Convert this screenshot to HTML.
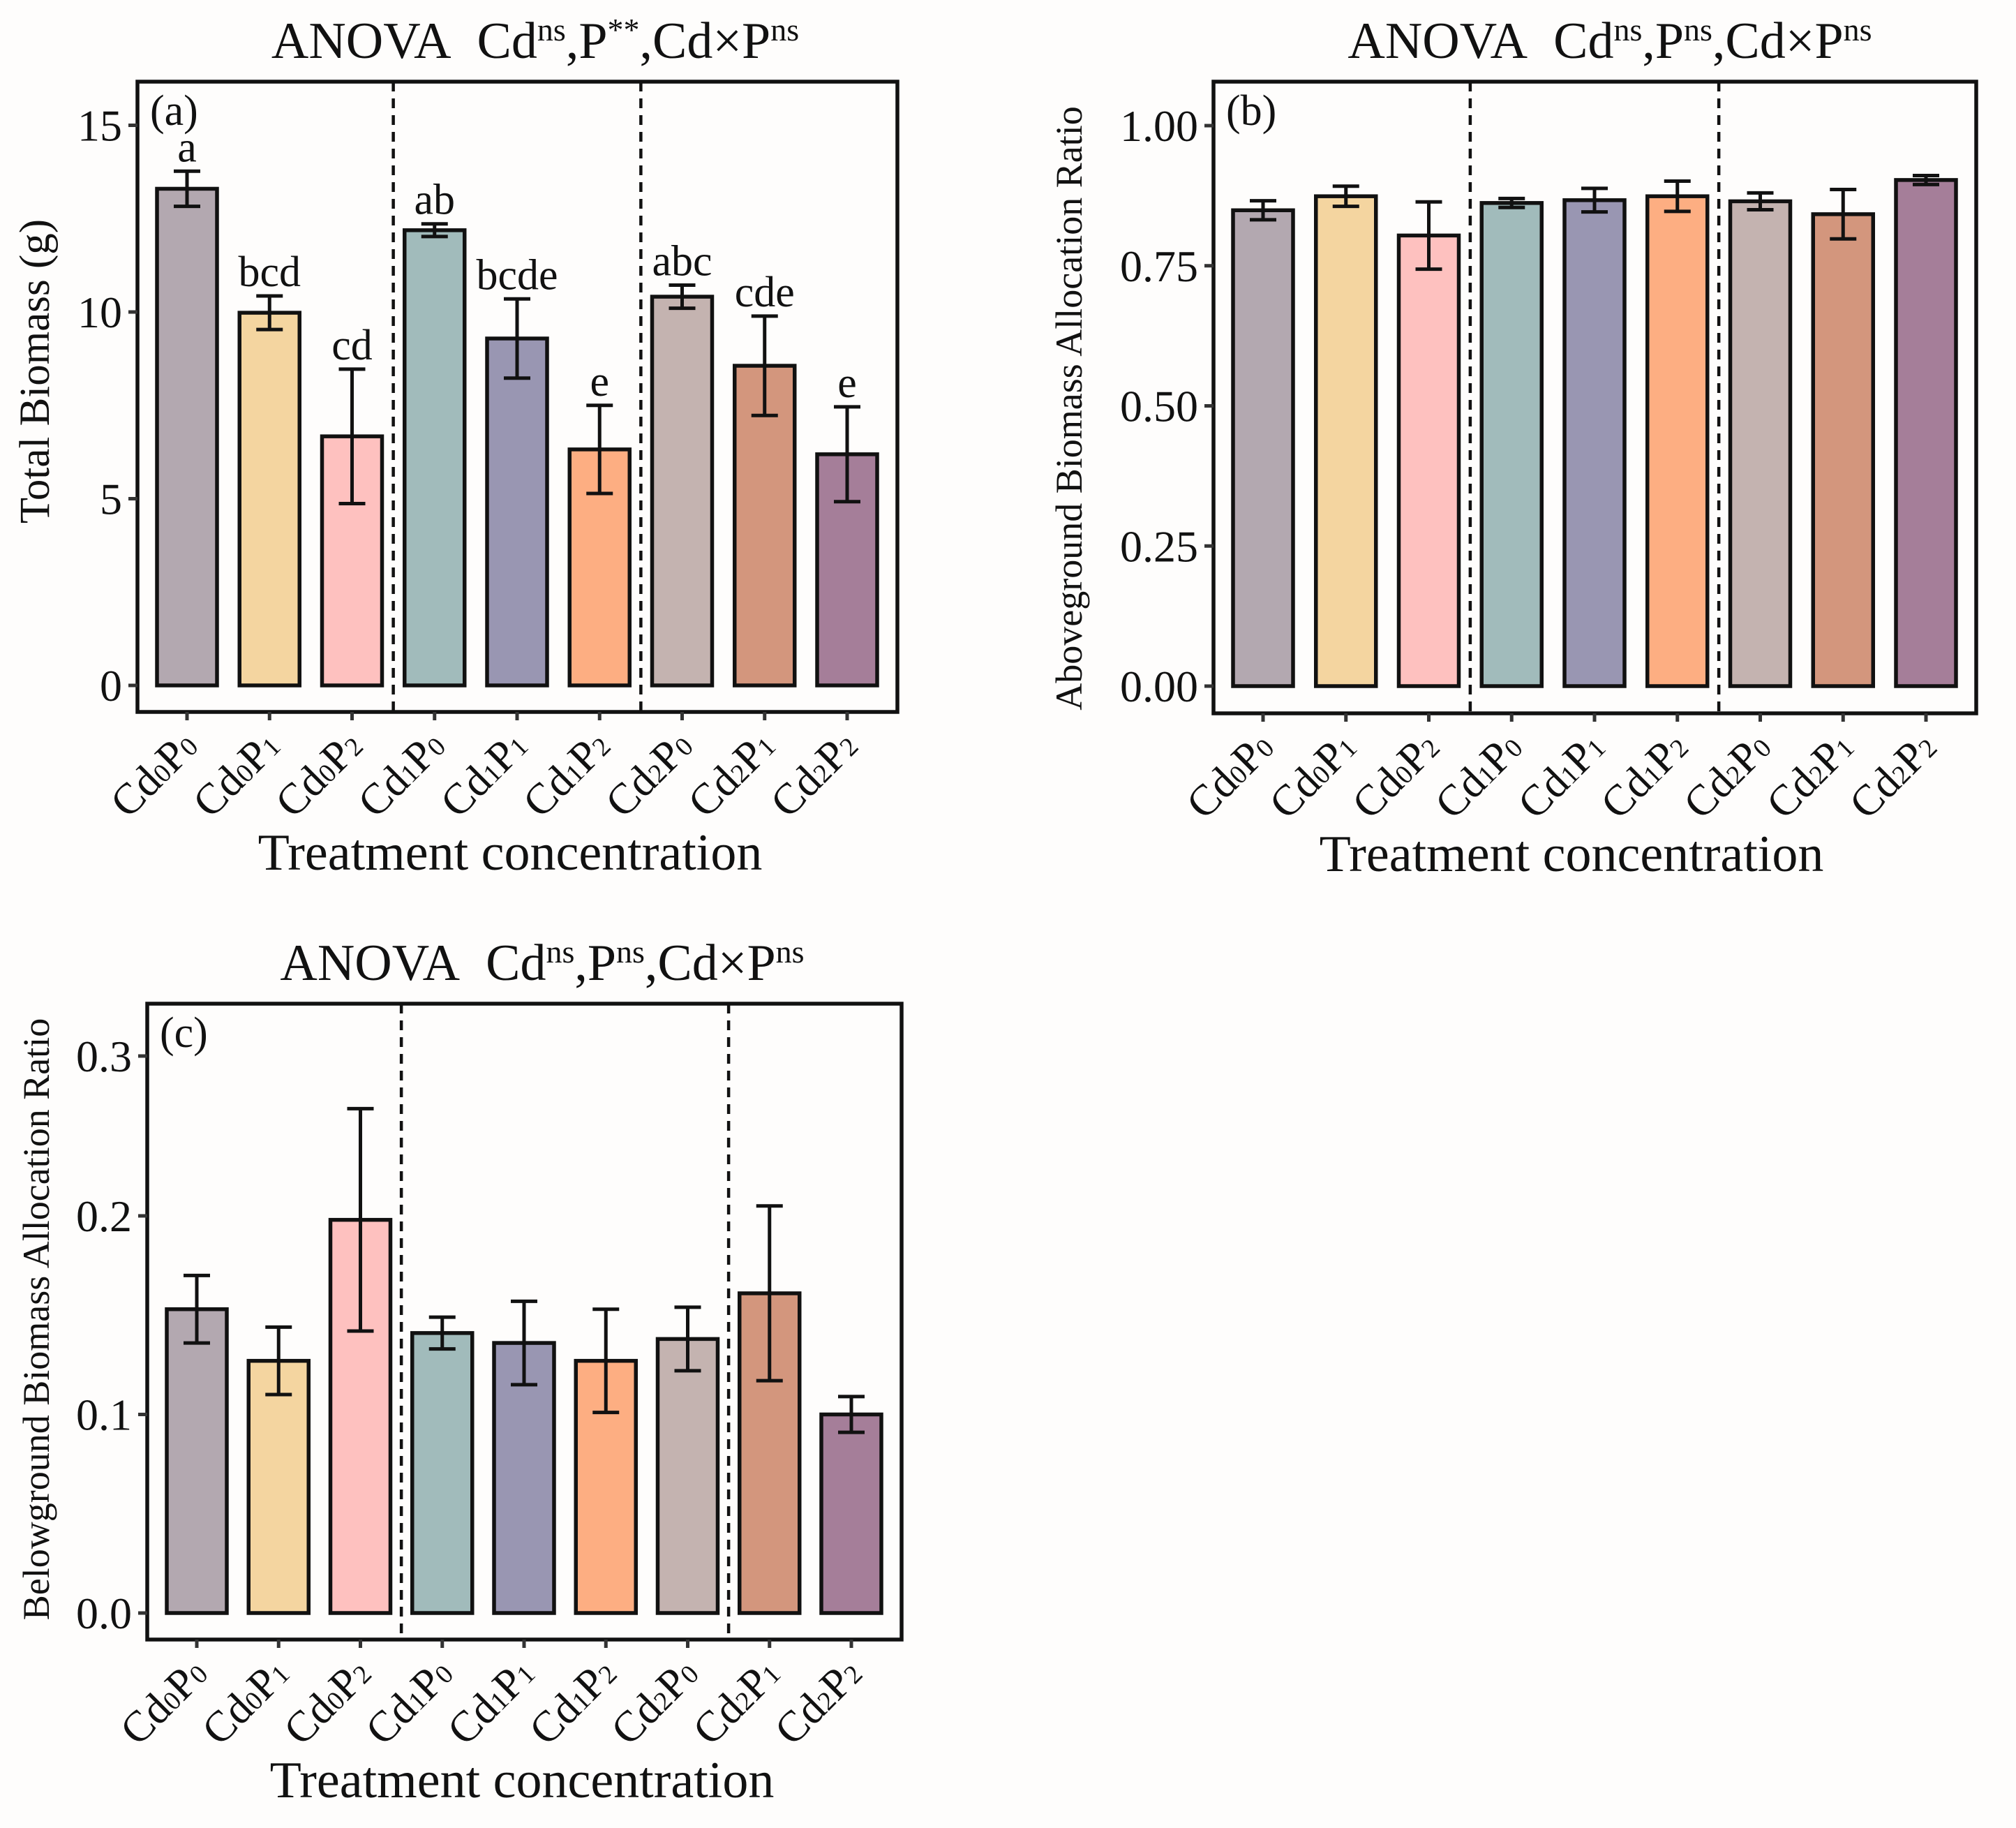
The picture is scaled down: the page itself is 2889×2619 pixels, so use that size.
<!DOCTYPE html>
<html><head><meta charset="utf-8"><style>
html,body{margin:0;padding:0;background:#fefdfc;}
svg{display:block;font-family:"Liberation Serif",serif;}
</style></head><body>
<svg id="fig" width="2889" height="2619" viewBox="0 0 2889 2619" xmlns="http://www.w3.org/2000/svg">
<rect x="0" y="0" width="2889" height="2619" fill="#fefdfc"/>
</svg>
<script>
const categories = [["0","0"],["0","1"],["0","2"],["1","0"],["1","1"],["1","2"],["2","0"],["2","1"],["2","2"]];
const colors = ["#b3a8b0","#f4d5a0","#fec1bf","#a1bbbb","#9996b2","#fdae82","#c4b3b0","#d3967d","#a57e99"];
const meansA = [13.3, 9.98, 6.67, 12.19, 9.29, 6.32, 10.41, 8.56, 6.19];
const errA = [0.47, 0.45, 1.8, 0.17, 1.06, 1.18, 0.31, 1.33, 1.27];
const lettersA = ["a","bcd","cd","ab","bcde","e","abc","cde","e"];
const ticksA = [0, 5, 10, 15];
const tickLabelsA = ["0","5","10","15"];
const meansB = [0.849, 0.874, 0.804, 0.862, 0.867, 0.874, 0.865, 0.842, 0.903];
const errB = [0.017, 0.018, 0.06, 0.008, 0.021, 0.027, 0.015, 0.044, 0.008];
const ticksB = [0, 0.25, 0.5, 0.75, 1.0];
const tickLabelsB = ["0.00","0.25","0.50","0.75","1.00"];
const meansC = [0.153, 0.127, 0.198, 0.141, 0.136, 0.127, 0.138, 0.161, 0.100];
const errC = [0.017, 0.017, 0.056, 0.008, 0.021, 0.026, 0.016, 0.044, 0.009];
const ticksC = [0, 0.1, 0.2, 0.2805];
const tickLabelsC = ["0.0","0.1","0.2","0.3"];

const NS = "http://www.w3.org/2000/svg";
const svg = document.getElementById("fig");
function mk(tag, attrs, parent) {
  const e = document.createElementNS(NS, tag);
  for (const k in attrs) e.setAttribute(k, attrs[k]);
  (parent || svg).appendChild(e);
  return e;
}

function panel(cfg) {
  const g = mk("g", {});
  
  
  const L = cfg.left, R = cfg.right, T = cfg.top, B = cfg.bottom;
  const step = (R - L - 143) / 8;
  const xScale = i => L + 71 + i * step;
  const yScale = v => cfg.y0 - v * cfg.pxPerUnit;
  const frame = mk("rect", {x: L, y: T, width: R - L, height: B - T, fill: "none", stroke: "#111", "stroke-width": 5.5}, g);
  
  
  cfg.dashes.forEach(d => {
    const ln = mk("line", {x1: xScale(d), x2: xScale(d), y1: T, y2: B, stroke: "#111", "stroke-width": 4.5, "stroke-dasharray": "14,10"}, g);
    
    
  });
  cfg.ticks.forEach((t, i) => {
    const y = yScale(t);
    const tk = mk("line", {x1: L - 13, x2: L, y1: y, y2: y, stroke: "#333", "stroke-width": 5}, g);
    
    
    const tl = mk("text", {x: L - 22, y: y + 22, "text-anchor": "end", "font-size": 64, fill: "#111"}, g);
    tl.textContent = cfg.tickLabels[i];
    
    
  });
  cfg.means.forEach((m, i) => {
    const cx = xScale(i);
    const bar = mk("rect", {x: cx - 43, y: yScale(m), width: 86, height: yScale(0) - yScale(m), fill: colors[i], stroke: "#111", "stroke-width": 5.5}, g);
    
    
    const hi = yScale(m + cfg.err[i]), lo = yScale(m - cfg.err[i]);
    const eb = mk("path", {d: `M${cx},${hi}V${lo}M${cx-19},${hi}H${cx+19}M${cx-19},${lo}H${cx+19}`, stroke: "#111", "stroke-width": 5, fill: "none"}, g);
    
    
    if (cfg.letters) {
      const lt = mk("text", {x: cx, y: hi - 14, "text-anchor": "middle", "font-size": 62, fill: "#111"}, g);
      lt.textContent = cfg.letters[i];
      
      
    }
    const xt = mk("line", {x1: cx, x2: cx, y1: B, y2: B + 12, stroke: "#333", "stroke-width": 5}, g);
    
    
    const xl = mk("text", {x: 0, y: 0, "text-anchor": "end", "font-size": 62, fill: "#111", transform: `translate(${cx + 18},${B + 52}) rotate(-45)`}, g);
    
    
    const c = categories[i];
    xl.innerHTML = `Cd<tspan font-size="38">${c[0]}</tspan>P<tspan font-size="38">${c[1]}</tspan>`;
  });
  const tag = mk("text", {x: L + 18, y: T + 62, "font-size": 62, fill: "#111"}, g);
  tag.textContent = cfg.tag;
  
  
  const ti = mk("text", {x: cfg.titleX, y: T - 34, "text-anchor": "middle", "font-size": 74, fill: "#111"}, g);
  
  
  const s = v => `<tspan font-size="46" baseline-shift="55%">${v}</tspan>`;
  ti.innerHTML = `ANOVA\u00a0\u00a0Cd${s("ns")},P${s(cfg.pSig)},Cd×P${s("ns")}`;
  const yt = mk("text", {x: 0, y: 0, "text-anchor": "middle", "font-size": cfg.ytSize, fill: "#111", transform: `translate(${cfg.ytX},${cfg.ytY}) rotate(-90)`}, g);
  yt.textContent = cfg.ytitle;
  
  
  const xtt = mk("text", {x: cfg.xtX, y: B + 226, "text-anchor": "middle", "font-size": 74, fill: "#111"}, g);
  xtt.textContent = "Treatment concentration";
  
  
}

panel({name: "panel-a-total-biomass", left: 197, right: 1286, top: 117, bottom: 1020, y0: 982, pxPerUnit: 53.5,
  ticks: ticksA, tickLabels: tickLabelsA, means: meansA, err: errA, letters: lettersA, dashes: [2.5, 5.5],
  tag: "(a)", titleX: 767, pSig: "**", ytitle: "Total Biomass (g)", ytX: 70, ytY: 532, ytSize: 61, xtX: 731});
panel({name: "panel-b-aboveground-ratio", left: 1739, right: 2832, top: 117, bottom: 1022, y0: 983, pxPerUnit: 803,
  ticks: ticksB, tickLabels: tickLabelsB, means: meansB, err: errB, letters: null, dashes: [2.5, 5.5],
  tag: "(b)", titleX: 2307, pSig: "ns", ytitle: "Aboveground Biomass Allocation Ratio", ytX: 1550, ytY: 585, ytSize: 54, xtX: 2252});
panel({name: "panel-c-belowground-ratio", left: 211, right: 1292, top: 1438, bottom: 2349, y0: 2311, pxPerUnit: 2845,
  ticks: ticksC, tickLabels: tickLabelsC, means: meansC, err: errC, letters: null, dashes: [2.5, 6.5],
  tag: "(c)", titleX: 777, pSig: "ns", ytitle: "Belowground Biomass Allocation Ratio", ytX: 70, ytY: 1890, ytSize: 54, xtX: 748});
</script>
</body></html>
